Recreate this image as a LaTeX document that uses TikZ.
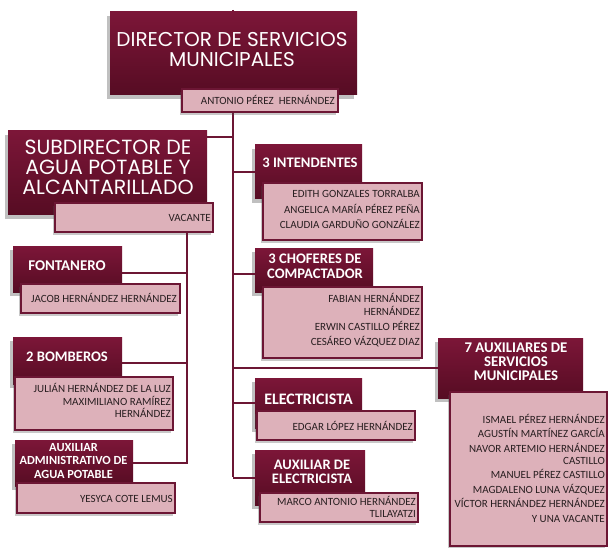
\documentclass[tikz,border=0pt]{standalone}
\usepackage{fontspec}
\setmainfont{Carlito}
\newfontfamily\headfont{Poppins}
\usetikzlibrary{shadows,fit}
\definecolor{mtop}{RGB}{124,22,56}
\definecolor{mbot}{RGB}{86,12,35}
\definecolor{mline}{RGB}{108,22,52}
\definecolor{pinkf}{RGB}{221,177,186}
\definecolor{ntxt}{RGB}{40,30,32}
\tikzset{
  titlebox/.style={draw=none, inner sep=0pt, top color=mtop, bottom color=mbot,
    drop shadow={shadow xshift=-3pt, shadow yshift=-4pt, opacity=0.35, fill=black!70}},
  namebox/.style={draw=mline, line width=1.6pt, fill=pinkf, inner sep=0pt,
    drop shadow={shadow xshift=-2pt, shadow yshift=-3pt, opacity=0.3, fill=black!70}},
  conn/.style={draw=mline, line width=2pt},
  headtext/.style={text=white, inner sep=0pt, align=center, font=\headfont\fontsize{20}{20}\selectfont},
  ttext/.style={text=white, inner sep=0pt, align=center, font=\bfseries\fontsize{14.6}{15}\selectfont},
  ntext/.style={text=ntxt, inner sep=0pt, align=right, font=\fontsize{11}{12}\selectfont},
}
\begin{document}
\begin{tikzpicture}[x=1pt,y=-1pt]
\fill[white] (0,0) rectangle (613,548);
\useasboundingbox (0,0) rectangle (613,548);
% connectors
\coordinate (mtopc) at (233,10);
\coordinate (mbotc) at (233,477);
\coordinate (sbx) at (187,0);
\draw[conn] (mtopc) -- (mbotc);
% boxes
\node[titlebox, fit={(110,12) (357,95)}] (tdir) {};
\node[titlebox, fit={(8,131) (207,215)}] (tsub) {};
\node[titlebox, fit={(13,246) (122,292)}] (tfon) {};
\node[titlebox, fit={(13,337) (122,384)}] (tbom) {};
\node[titlebox, fit={(15,440) (133,486)}] (taux) {};
\node[titlebox, fit={(255,145) (362,199)}] (tint) {};
\node[titlebox, fit={(255,248) (373,292)}] (tcho) {};
\node[titlebox, fit={(255,378) (362,428)}] (tele) {};
\node[titlebox, fit={(255,450) (365,505)}] (tael) {};
\node[titlebox, fit={(438,338) (583,398)}] (tsev) {};
% branch connectors
\draw[conn] ([yshift=-6pt]tsub.north east) -- ([yshift=-6pt]tsub.north east -| mtopc);
\draw[conn] (tint.west) -- (tint.west -| mtopc);
\draw[conn] ([yshift=-4pt]tcho.west) -- ([yshift=-4pt]tcho.west -| mtopc);
\draw[conn] (tele.west) -- (tele.west -| mtopc);
\draw[conn] (tael.west) -- (tael.west -| mtopc);
\draw[conn] (tsev.west) -- (tsev.west -| mtopc);
% name boxes
\node[namebox, fit={(182,89) (338,112)}] (ndir) {};
\node[namebox, fit={(55,203) (213,232)}] (nsub) {};
\draw[conn] (nsub.south -| sbx) -- (taux.east -| sbx) -- (taux.east);
\draw[conn] ([yshift=-4pt]tfon.east) -- ([yshift=-4pt]tfon.east -| sbx);
\draw[conn] ([yshift=-2pt]tbom.east) -- ([yshift=-2pt]tbom.east -| sbx);
\node[namebox, fit={(21,284) (180,313)}] (nfon) {};
\node[namebox, fit={(15,377) (173,430)}] (nbom) {};
\node[namebox, fit={(17,483) (175,513)}] (naux) {};
\node[namebox, fit={(263,183) (422,240)}] (nint) {};
\node[namebox, fit={(263,287) (422,358)}] (ncho) {};
\node[namebox, fit={(257,411) (415,440)}] (nele) {};
\node[namebox, fit={(260,493) (418,522)}] (nael) {};
\node[namebox, fit={(450,392) (607,546)}] (nsev) {};
% title texts
\node[headtext] (xdir) at (232,50) {DIRECTOR DE SERVICIOS\\MUNICIPALES};
\node[headtext, font=\headfont\fontsize{20.5}{20}\selectfont] (xsub) at (108,167) {SUBDIRECTOR DE\\AGUA POTABLE Y\\ALCANTARILLADO};
\node[ttext, anchor=base, font=\bfseries\fontsize{14.9}{15}\selectfont] (xfon) at (67,270) {FONTANERO};
\node[ttext, anchor=base] (xbom) at (67,361) {2 BOMBEROS};
\node[ttext, font=\bfseries\fontsize{12.4}{13.5}\selectfont] (xaux) at (73.5,461) {AUXILIAR\\ADMINISTRATIVO DE\\AGUA POTABLE};
\node[ttext, anchor=base] (xint) at (310,168) {3 INTENDENTES};
\node[ttext] (xcho) at (315,266) {3 CHOFERES DE\\COMPACTADOR};
\node[ttext, anchor=base, font=\bfseries\fontsize{16}{15}\selectfont] (xele) at (308.5,404) {ELECTRICISTA};
\node[ttext, font=\bfseries\fontsize{14.5}{14}\selectfont] (xael) at (312,472) {AUXILIAR DE\\ELECTRICISTA};
\node[ttext, font=\bfseries\fontsize{14.8}{14}\selectfont] (xsev) at (516,362) {7 AUXILIARES DE\\SERVICIOS\\MUNICIPALES};
% name texts (anchor base = last line)
\node[ntext, anchor=base east] (ydir) at (335,105) {ANTONIO PÉREZ\ \ HERNÁNDEZ};
\node[ntext, anchor=base east] (ysub) at (211,222) {VACANTE};
\node[ntext, anchor=base east] (yfon) at (177,302) {JACOB HERNÁNDEZ HERNÁNDEZ};
\node[ntext, anchor=base east, font=\fontsize{11}{11.5}\selectfont] (ybom) at (171,417) {JULIÁN HERNÁNDEZ DE LA LUZ\\[2pt]MAXIMILIANO RAMÍREZ\\HERNÁNDEZ};
\node[ntext, anchor=base east] (yaux) at (173,502) {YESYCA COTE LEMUS};
\node[ntext, anchor=base east, font=\fontsize{11}{15.5}\selectfont] (yint) at (420,229) {EDITH GONZALES TORRALBA\\ANGELICA MARÍA PÉREZ PEÑA\\CLAUDIA GARDUÑO GONZÁLEZ};
\node[ntext, anchor=base east, font=\fontsize{11}{12.5}\selectfont] (ycho) at (420,345) {FABIAN HERNÁNDEZ\\HERNÁNDEZ\\[2.5pt]ERWIN CASTILLO PÉREZ\\[2.5pt]CESÁREO VÁZQUEZ DIAZ};
\node[ntext, anchor=base east] (yele) at (413,430) {EDGAR LÓPEZ HERNÁNDEZ};
\node[ntext, anchor=base east] (yael) at (416,517) {MARCO ANTONIO HERNÁNDEZ\\TLILAYATZI};
\node[ntext, anchor=base east] (ysev) at (605,522) {ISMAEL PÉREZ HERNÁNDEZ\\[2.5pt]AGUSTÍN MARTÍNEZ GARCÍA\\[2.5pt]NAVOR ARTEMIO HERNÁNDEZ\\CASTILLO\\[2.5pt]MANUEL PÉREZ CASTILLO\\[2.5pt]MAGDALENO LUNA VÁZQUEZ\\[2.5pt]VÍCTOR HERNÁNDEZ HERNÁNDEZ\\[2.5pt]Y UNA VACANTE};
\end{tikzpicture}
\end{document}
